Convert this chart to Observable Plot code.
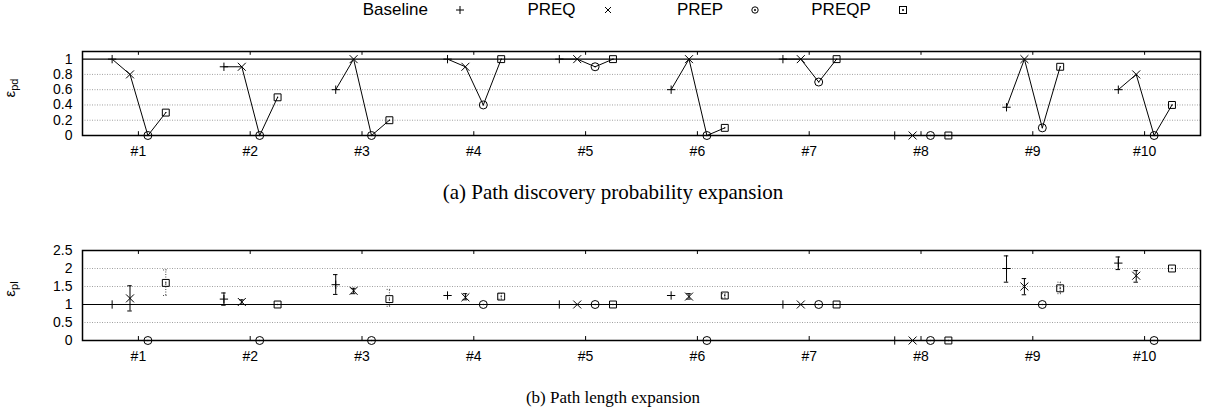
<!DOCTYPE html>
<html><head><meta charset="utf-8">
<script src="https://cdn.jsdelivr.net/npm/d3@7"></script>
<script src="https://cdn.jsdelivr.net/npm/@observablehq/plot@0.6"></script>
<style>
body{margin:0;background:#fff;width:1205px;height:415px;overflow:hidden;position:relative;font-family:"Liberation Sans",Arial,sans-serif}
.abs{position:absolute}
.caption{font-family:"Liberation Serif","Times New Roman",serif;font-size:17px;line-height:20px;left:0;width:1226px;text-align:center;color:#000;white-space:nowrap}
.entry{position:absolute;top:0;height:20px;width:148px}
.entry span{position:absolute;right:60px;top:0;font-size:17px;line-height:20px;white-space:nowrap}
.entry svg{position:absolute;left:115px;top:4px}
</style></head><body>
<div id="legend" class="abs" style="top:0;left:340px;width:600px;height:20px;"></div>
<div id="c1" class="abs" style="top:40px;left:0"></div>
<div class="abs caption" style="top:180px;font-size:21px;line-height:24px">(a) Path discovery probability expansion</div>
<div id="c2" class="abs" style="top:235px;left:0"></div>
<div class="abs caption" style="top:388px">(b) Path length expansion</div>
<script>
// ---------- data ----------
const groups = [1, 2, 3, 4, 5, 6, 7, 8, 9, 10];
const groupLabels = ["#1", "#2", "#3", "#4", "#5", "#6", "#7", "#8", "#9", "#10"];
const series = ["Baseline", "PREQ", "PREP", "PREQP"];

// (a) path discovery probability expansion
const pdBaseline = [1, 0.9, 0.6, 1, 1, 0.6, 1, 0, 0.37, 0.6];
const pdPREQ     = [0.8, 0.9, 1, 0.9, 1, 1, 1, 0, 1, 0.8];
const pdPREP     = [0, 0, 0, 0.4, 0.9, 0, 0.7, 0, 0.1, 0];
const pdPREQP    = [0.3, 0.5, 0.2, 1, 1, 0.1, 1, 0, 0.9, 0.4];
const pdTicks = [0, 0.2, 0.4, 0.6, 0.8, 1];

// (b) path length expansion (value, error low, error high)
const plBaseline   = [1, 1.15, 1.55, 1.25, 1, 1.25, 1, 0, 2.0, 2.15];
const plBaselineLo = [null, 0.98, 1.28, null, null, null, null, null, 1.62, 1.97];
const plBaselineHi = [null, 1.32, 1.83, null, null, null, null, null, 2.35, 2.32];
const plPREQ       = [1.17, 1.07, 1.38, 1.2, 1, 1.22, 1, 0, 1.5, 1.8];
const plPREQLo     = [0.82, 1.0, 1.3, 1.13, null, 1.15, null, null, 1.27, 1.62];
const plPREQHi     = [1.52, 1.13, 1.45, 1.3, null, 1.3, null, null, 1.72, 1.94];
const plPREP       = [0, 0, 0, 1, 1, 0, 1, 0, 1, 0];
const plPREQP      = [1.6, 1.0, 1.15, 1.22, 1, 1.25, 1, 0, 1.45, 2.0];
const plPREQPLo    = [1.25, null, 0.95, 1.15, null, 1.18, null, null, 1.3, null];
const plPREQPHi    = [1.96, null, 1.42, 1.3, null, 1.3, null, null, 1.62, null];
const plTicks = [0, 0.5, 1, 1.5, 2, 2.5];

// ---------- layout / style ----------
const offsets = {Baseline: -0.235, PREQ: -0.075, PREP: 0.085, PREQP: 0.245};
const symbols = {Baseline: "plus", PREQ: "times", PREP: "circle", PREQP: "square"};
const radii = {Baseline: 2.8, PREQ: 3.7, PREP: 4, PREQP: 3.9};

const pdVals = {Baseline: pdBaseline, PREQ: pdPREQ, PREP: pdPREP, PREQP: pdPREQP};
const plVals = {Baseline: plBaseline, PREQ: plPREQ, PREP: plPREP, PREQP: plPREQP};
const plLo = {Baseline: plBaselineLo, PREQ: plPREQLo, PREQP: plPREQPLo};
const plHi = {Baseline: plBaselineHi, PREQ: plPREQHi, PREQP: plPREQPHi};

const pdRows = [];
groups.forEach((g, j) => series.forEach(s => pdRows.push({g, s, x: g + offsets[s], y: pdVals[s][j]})));
const plRows = [];
groups.forEach((g, j) => series.forEach(s => plRows.push({g, s, x: g + offsets[s], y: plVals[s][j]})));
const errRows = [];
groups.forEach((g, j) => Object.keys(plLo).forEach(s => {
  if (plLo[s][j] != null) errRows.push({g, s, x: g + offsets[s], lo: plLo[s][j], hi: plHi[s][j]});
}));

const fmt = d => String(d);
const xLabel = d => groupLabels[groups.indexOf(d)];

function dotMarks(rows) {
  const m = [];
  series.forEach(s => {
    const data = rows.filter(r => r.s === s);
    m.push(Plot.dot(data, {x: "x", y: "y", symbol: symbols[s], r: radii[s], stroke: "black", fill: "none", strokeWidth: 1}));
    if (s === "PREP" || s === "PREQP") m.push(Plot.dot(data, {x: "x", y: "y", r: 0.7, fill: "black"}));
  });
  return m;
}

function addYLabel(svg, midY, sub) {
  const t = d3.select(svg).append("text")
    .attr("transform", `translate(15,${midY}) rotate(-90)`)
    .attr("text-anchor", "middle")
    .attr("font-family", "Liberation Sans, Arial, sans-serif")
    .attr("fill", "black");
  t.append("tspan").attr("font-size", 15).text("ε");
  t.append("tspan").attr("font-size", 11).attr("dy", 3).text(sub);
}

const commonStyle = {fontFamily: "Liberation Sans, Arial, sans-serif", fontSize: "14px", color: "black", background: "white", overflow: "visible"};

// ---------- chart (a) ----------
const p1 = Plot.plot({
  width: 1205, height: 125, marginLeft: 82, marginRight: 5, marginTop: 11, marginBottom: 30,
  style: commonStyle,
  x: {domain: [0.5, 10.5]},
  y: {domain: [0, 1.1]},
  marks: [
    Plot.ruleY(pdTicks.filter(v => v > 0 && v < 1), {stroke: "#888", strokeWidth: 0.8, strokeDasharray: "1,1.5"}),
    Plot.ruleY([1], {stroke: "black", strokeWidth: 1.2}),
    Plot.ruleX(groups, {y1: 0, y2: 0.05, stroke: "black"}),
    Plot.ruleX(groups, {y1: 1.05, y2: 1.1, stroke: "black"}),
    Plot.axisY({ticks: pdTicks, tickFormat: fmt, tickSize: 0, tickPadding: 10, fontSize: 14, label: null}),
    Plot.axisX({ticks: groups, tickFormat: xLabel, tickSize: 0, tickPadding: 11, fontSize: 14, label: null}),
    Plot.line(pdRows, {x: "x", y: "y", z: "g", stroke: "black", strokeWidth: 1}),
    ...dotMarks(pdRows),
    Plot.frame({stroke: "black", strokeWidth: 1.5})
  ]
});
addYLabel(p1, 48, "pd");
document.getElementById("c1").appendChild(p1);

// ---------- chart (b) ----------
const solidErr = errRows.filter(r => r.s !== "PREQP");
const dotErr = errRows.filter(r => r.s === "PREQP");
const cap = 0.02;
function errMarks(data, extra) {
  return [
    Plot.ruleX(data, {x: "x", y1: "lo", y2: "hi", stroke: "black", strokeWidth: 1, ...extra}),
    Plot.ruleY(data, {y: "lo", x1: d => d.x - cap, x2: d => d.x + cap, stroke: "black", strokeWidth: 1, ...extra}),
    Plot.ruleY(data, {y: "hi", x1: d => d.x - cap, x2: d => d.x + cap, stroke: "black", strokeWidth: 1, ...extra})
  ];
}
const p2 = Plot.plot({
  width: 1205, height: 135, marginLeft: 82, marginRight: 5, marginTop: 15, marginBottom: 30,
  style: commonStyle,
  x: {domain: [0.5, 10.5]},
  y: {domain: [0, 2.5]},
  marks: [
    Plot.ruleY(plTicks.filter(v => v > 0 && v < 2.5 && v !== 1), {stroke: "#888", strokeWidth: 0.8, strokeDasharray: "1,1.5"}),
    Plot.ruleY([1], {stroke: "black", strokeWidth: 1.2}),
    Plot.ruleX(groups, {y1: 0, y2: 0.11, stroke: "black"}),
    Plot.ruleX(groups, {y1: 2.39, y2: 2.5, stroke: "black"}),
    Plot.axisY({ticks: plTicks, tickFormat: fmt, tickSize: 0, tickPadding: 10, fontSize: 14, label: null}),
    Plot.axisX({ticks: groups, tickFormat: xLabel, tickSize: 0, tickPadding: 11, fontSize: 14, label: null}),
    ...errMarks(solidErr, {}),
    ...errMarks(dotErr, {stroke: "#444", strokeDasharray: "1,1.5"}),
    ...dotMarks(plRows),
    Plot.frame({stroke: "black", strokeWidth: 1.5})
  ]
});
addYLabel(p2, 54, "pl");
document.getElementById("c2").appendChild(p2);

// ---------- legend ----------
const legend = d3.select("#legend");
const legendSym = {
  Baseline: g => g.append("path").attr("d", "M1,6H9M5,2V10"),
  PREQ: g => g.append("path").attr("d", "M2,3L8,9M2,9L8,3"),
  PREP: g => { g.append("circle").attr("cx", 5).attr("cy", 6).attr("r", 3.2); g.append("circle").attr("cx", 5).attr("cy", 6).attr("r", 0.6).attr("fill", "black"); },
  PREQP: g => { g.append("rect").attr("x", 1.5).attr("y", 2.5).attr("width", 7).attr("height", 7); g.append("circle").attr("cx", 5).attr("cy", 6).attr("r", 0.6).attr("fill", "black"); }
};
series.forEach((s, i) => {
  const e = legend.append("div").attr("class", "entry").style("left", (i * 147.6) + "px");
  e.append("span").text(s);
  const svg = e.append("svg").attr("width", 12).attr("height", 12);
  const g = svg.append("g").attr("stroke", "black").attr("fill", "none").attr("stroke-width", 1);
  legendSym[s](g);
});
</script>
</body></html>
